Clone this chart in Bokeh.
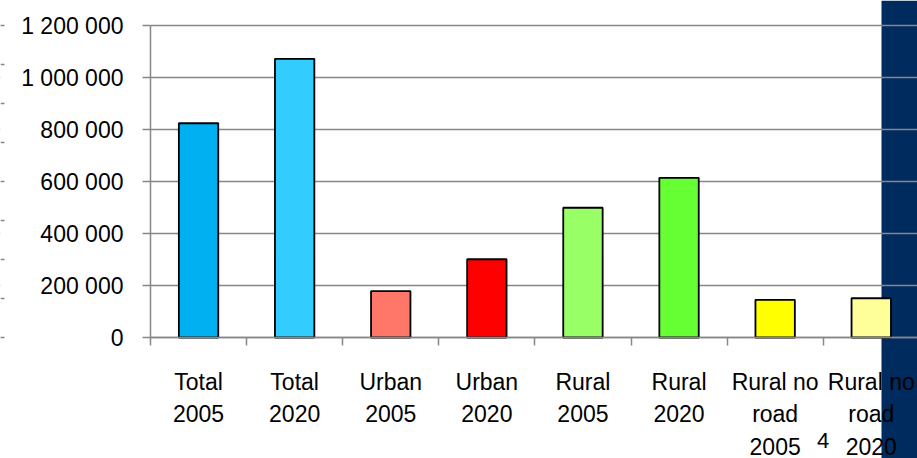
from bokeh.plotting import figure
from bokeh.models import FixedTicker, BoxAnnotation, Label, Range1d, ColumnDataSource, LinearAxis
from bokeh.embed import file_html
from bokeh.resources import INLINE

categories = ["Total\n2005", "Total\n2020", "Urban\n2005", "Urban\n2020",
              "Rural\n2005", "Rural\n2020", "Rural no\nroad\n2005", "Rural no\nroad\n2020"]
values = [824000, 1072000, 178000, 301000, 499000, 614000, 145000, 151000]
colors = ["#00B0F0", "#33CCFF", "#FF7769", "#FF0000", "#99FF66", "#66FF33", "#FFFF00", "#FFFF99"]
y_ticks = [0, 200000, 400000, 600000, 800000, 1000000, 1200000]
y_tick_labels = ["0", "200 000", "400 000", "600 000", "800 000", "1 000 000", "1 200 000"]
edge_ticks = [0, 150000, 300000, 450000, 600000, 750000, 900000, 1050000, 1200000]

FONT = "Liberation Sans"
GRAY = "#878787"

W, H = 917, 458
# pixel layout of the plotting area inside the canvas
X0, CAT_W = 150.0, 96.1          # left axis position, width of one category
Y0, PX_PER_200K = 337.0, 52.0    # zero line position, pixels per 200 000

x_start = -X0 / CAT_W
x_end = (W - X0) / CAT_W
y_start = -(H - Y0) / PX_PER_200K * 200000
y_end = Y0 / PX_PER_200K * 200000

centers = [i + 0.5 for i in range(len(categories))]
src = ColumnDataSource(dict(x=centers, top=values, color=colors))

p = figure(width=W, height=H, output_backend="svg", toolbar_location=None,
           x_range=Range1d(x_start, x_end), y_range=Range1d(y_start, y_end),
           min_border=0, outline_line_color=None,
           background_fill_color="white", border_fill_color="white")

band = BoxAnnotation(left=(881 - X0) / CAT_W, fill_color="#002B5F", fill_alpha=1.0,
                     line_color=None, level="image")
p.add_layout(band)

mask = BoxAnnotation(right=0, fill_color="white", fill_alpha=1.0, line_color=None, level="glyph")
p.add_layout(mask)

p.vbar(x="x", top="top", width=0.41, bottom=0, source=src,
       fill_color="color", line_color="black", line_width=1.8)

# y axis
yax = p.yaxis[0]
yax.fixed_location = 0
yax.ticker = FixedTicker(ticks=y_ticks)
yax.major_label_overrides = {float(t): l for t, l in zip(y_ticks, y_tick_labels)}
yax.bounds = (0, 1200000)
yax.axis_line_color = GRAY
yax.axis_line_width = 1.5
yax.major_tick_line_color = GRAY
yax.major_tick_line_width = 1.5
yax.major_tick_out = 8
yax.major_tick_in = 0
yax.minor_tick_line_color = None
yax.major_label_standoff = 19
yax.major_label_text_font = FONT
yax.major_label_text_font_size = "23px"
yax.major_label_text_color = "black"

# faint tick marks at the very left edge (neighbouring chart)
edge = LinearAxis(fixed_location=(4 - X0) / CAT_W, ticker=FixedTicker(ticks=edge_ticks),
                  axis_line_color=None, major_tick_line_color=GRAY, major_tick_line_width=1.5,
                  major_tick_out=4, major_tick_in=0, minor_tick_line_color=None,
                  major_label_text_alpha=0, major_label_text_font_size="1px",
                  major_label_overrides={float(t): " " for t in edge_ticks})
p.add_layout(edge, "left")

# x axis
xax = p.xaxis[0]
xax.fixed_location = 0
xax.ticker = FixedTicker(ticks=centers, minor_ticks=list(range(len(categories) + 1)))
xax.major_label_overrides = {float(c): l for c, l in zip(centers, categories)}
xax.bounds = (0, x_end)
xax.axis_line_color = GRAY
xax.axis_line_width = 1.5
xax.major_tick_line_color = None
xax.major_tick_out = 0
xax.major_tick_in = 0
xax.minor_tick_line_color = GRAY
xax.minor_tick_line_width = 1.5
xax.minor_tick_out = 8
xax.minor_tick_in = 0
xax.major_label_standoff = 23
xax.major_label_text_font = FONT
xax.major_label_text_font_size = "23px"
xax.major_label_text_color = "black"
xax.major_label_text_line_height = 1.25

p.xgrid.grid_line_color = None
p.ygrid.ticker = FixedTicker(ticks=y_ticks)
p.ygrid.grid_line_color = GRAY
p.ygrid.grid_line_width = 1.5
p.ygrid.level = "underlay"

page = Label(x=7.0, y=-(432 - Y0) / PX_PER_200K * 200000, text="4", text_font=FONT,
             text_font_size="22px", text_align="center", text_baseline="top",
             text_color="black")
p.add_layout(page)

open("out.html", "w").write(file_html(p, INLINE))
